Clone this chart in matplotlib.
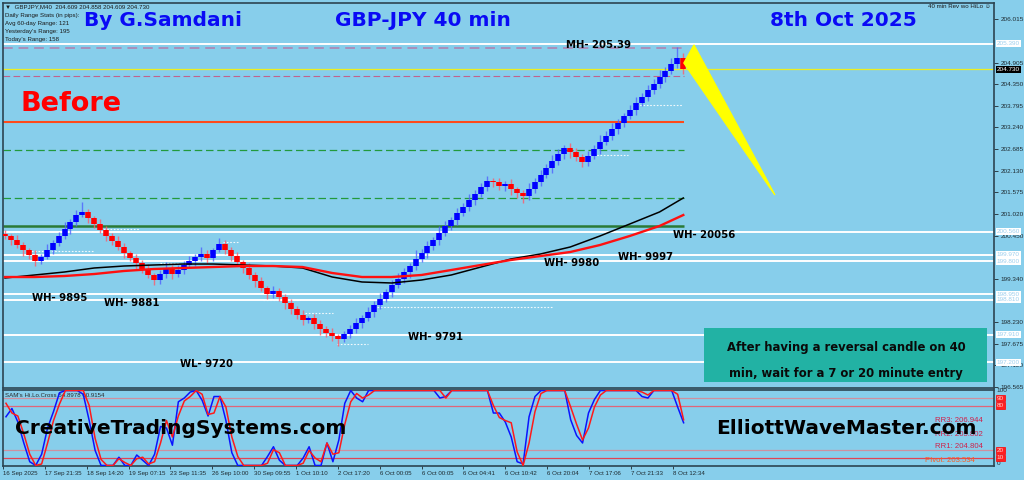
import matplotlib
matplotlib.use("Agg")
import matplotlib.pyplot as plt
from matplotlib.patches import Rectangle
from matplotlib.transforms import blended_transform_factory
import numpy as np

# ---------------- data ----------------
open0 = 200.50
closes = [200.448, 200.345, 200.216, 200.088, 199.959, 199.805, 199.907, 200.088, 200.268, 200.448,
          200.627, 200.807, 200.987, 201.065, 200.910, 200.756, 200.602, 200.448, 200.319, 200.165,
          200.010, 199.882, 199.753, 199.599, 199.445, 199.316, 199.470, 199.625, 199.470, 199.573,
          199.702, 199.805, 199.907, 199.985, 199.882, 200.088, 200.242, 200.088, 199.933, 199.779,
          199.625, 199.445, 199.290, 199.110, 198.956, 199.033, 198.879, 198.725, 198.570, 198.416,
          198.288, 198.339, 198.185, 198.056, 197.953, 197.876, 197.799, 197.928, 198.056, 198.210,
          198.339, 198.493, 198.673, 198.828, 199.008, 199.188, 199.342, 199.522, 199.676, 199.856,
          200.010, 200.190, 200.345, 200.525, 200.705, 200.859, 201.039, 201.193, 201.373, 201.528,
          201.708, 201.862, 201.836, 201.733, 201.785, 201.656, 201.553, 201.476, 201.656, 201.836,
          202.016, 202.196, 202.376, 202.556, 202.710, 202.608, 202.479, 202.350, 202.505, 202.685,
          202.865, 203.019, 203.199, 203.353, 203.533, 203.688, 203.868, 204.022, 204.202, 204.356,
          204.536, 204.690, 204.870, 205.025, 204.730]
wick_up_pips = [10, 6, 14, 8, 5, 12, 9, 15, 7, 11,
                18, 9, 13, 25, 8, 6, 12, 10, 7, 14,
                9, 5, 11, 8, 13, 6, 10, 16, 7, 12,
                9, 14, 8, 18, 10, 6, 15, 9, 7, 11,
                5, 13, 8, 10, 6, 12, 9, 7, 11, 8,
                14, 6, 10, 9, 7, 12, 5, 8, 11, 14,
                9, 13, 10, 16, 8, 12, 15, 11, 9, 22,
                10, 14, 8, 17, 12, 9, 13, 10, 15, 11,
                9, 14, 7, 10, 8, 12, 6, 9, 15, 11,
                13, 10, 16, 12, 9, 14, 11, 8, 13, 10,
                18, 12, 15, 11, 9, 14, 16, 10, 13, 12,
                19, 11, 15, 28, 13]
wick_dn_pips = [8, 12, 7, 15, 10, 14, 9, 6, 11, 8,
                7, 12, 9, 6, 13, 10, 8, 14, 11, 9,
                12, 8, 15, 10, 7, 13, 9, 11, 14, 8,
                10, 7, 12, 9, 13, 8, 6, 11, 14, 9,
                12, 10, 15, 8, 13, 11, 9, 16, 12, 10,
                14, 9, 12, 15, 10, 13, 18, 8, 11, 9,
                12, 8, 14, 10, 9, 13, 7, 11, 15, 10,
                8, 12, 10, 14, 9, 11, 13, 8, 10, 12,
                9, 11, 14, 10, 13, 16, 12, 18, 9, 11,
                10, 8, 13, 9, 12, 15, 11, 14, 10, 8,
                12, 9, 11, 14, 10, 8, 13, 9, 11, 10,
                9, 12, 8, 10, 12]

ma_bars = [0, 5, 10, 15, 20, 25, 30, 35, 40, 45, 50, 55, 60, 65, 70, 75, 80, 85, 90, 95, 100, 105, 110, 114]
ma_black = [199.368, 199.445, 199.522, 199.625, 199.676, 199.702, 199.727, 199.727, 199.702, 199.676,
            199.625, 199.393, 199.265, 199.239, 199.316, 199.445, 199.650, 199.856, 199.985, 200.165,
            200.448, 200.756, 201.065, 201.425]
ma_red = [199.393, 199.393, 199.419, 199.470, 199.548, 199.599, 199.625, 199.650, 199.676, 199.676,
          199.650, 199.496, 199.393, 199.393, 199.445, 199.573, 199.702, 199.830, 199.933, 200.036,
          200.216, 200.448, 200.705, 200.987]

osc_blue = [65, 76, 58, 30, 5, 0, 15, 50, 72, 97,
            100, 100, 100, 95, 60, 20, 0, 0, 0, 11,
            0, 0, 14, 7, 0, 15, 52, 50, 27, 85,
            90, 98, 100, 87, 66, 92, 92, 60, 17, 0,
            0, 0, 0, 0, 12, 25, 7, 0, 0, 0,
            10, 25, 0, 0, 30, 5, 34, 83, 100, 90,
            85, 100, 100, 100, 100, 100, 100, 100, 100, 100,
            100, 100, 100, 90, 92, 100, 100, 100, 100, 100,
            100, 100, 70, 70, 58, 38, 5, 2, 65, 92,
            100, 100, 100, 100, 100, 61, 40, 30, 70, 88,
            100, 100, 100, 100, 100, 100, 100, 92, 90, 100,
            100, 100, 100, 78, 57]
osc_red = [83, 70, 66, 42, 15, 0, 2, 30, 60, 82,
           100, 100, 100, 100, 80, 36, 8, 0, 0, 9,
           4, 0, 9, 11, 2, 5, 30, 60, 38, 66,
           86, 92, 100, 95, 68, 70, 92, 78, 38, 12,
           0, 0, 0, 0, 3, 21, 17, 0, 0, 0,
           3, 20, 10, 5, 30, 15, 17, 55, 85, 96,
           90, 94, 100, 100, 100, 100, 100, 100, 100, 100,
           100, 100, 100, 100, 90, 100, 100, 100, 100, 100,
           100, 100, 80, 64, 60, 57, 18, 0, 30, 72,
           96, 100, 100, 100, 100, 78, 55, 34, 50, 78,
           94, 100, 100, 100, 100, 100, 100, 98, 94, 100,
           100, 100, 100, 95, 61]
osc_levels = [90, 80, 20, 10]

white_levels = [205.390, 200.560, 199.970, 199.800, 198.950, 198.810, 197.910, 197.200]
current_price = 204.730
dashed_levels = [205.282, 204.572]
orange_level = 203.370
green_dashed_levels = [202.659, 201.425]
green_solid_level = 200.717
level_end_bar = 114.1

dotted_segments = [(0.0, 3.0, 200.550), (3.9, 14.8, 200.062), (16.0, 22.7, 200.627), (26.1, 29.4, 199.753),
                   (36.6, 39.2, 200.293), (43.4, 49.6, 198.802), (50.4, 55.1, 198.468), (55.8, 61.0, 197.670),
                   (62.5, 92.1, 198.622), (98.3, 104.7, 202.530), (105.5, 114.0, 203.816)]

forecast_bars = [114.1, 115.8, 129.4]
forecast_prices = [204.896, 205.359, 201.502]

wave_labels = [("MH- 205.39", 99.7, 205.359), ("WH- 9895", 9.2, 198.853), ("WH- 9881", 21.3, 198.725),
               ("WL- 9720", 33.8, 197.156), ("WH- 9791", 72.4, 197.850), ("WH- 9980", 95.3, 199.753),
               ("WH- 9997", 107.6, 199.907), ("WH- 20056", 117.5, 200.473)]

price_ticks = [206.015, 204.905, 204.350, 203.795, 203.240, 202.685, 202.130, 201.575,
               201.020, 200.450, 199.340, 198.230, 197.675, 197.120, 196.565]
time_labels = ["16 Sep 2025", "17 Sep 21:35", "18 Sep 14:20", "19 Sep 07:15", "23 Sep 11:35",
               "26 Sep 10:00", "30 Sep 09:55", "1 Oct 10:10", "2 Oct 17:20", "6 Oct 00:05",
               "6 Oct 00:05", "6 Oct 04:41", "6 Oct 10:42", "6 Oct 20:04", "7 Oct 17:06",
               "7 Oct 21:33", "8 Oct 12:34"]
pivot_texts = [("RR3: 206.944", '#d0204a'), ("RR2: 205.802", '#d0204a'),
               ("RR1: 204.804", '#d0204a'), ("PIvot: 203.534", '#ff5a1e')]

# ---------------- layout ----------------
W, H = 1024, 480
SKY = '#87CEEB'
BORDER = '#2c4452'
BAR_PX = 5.95
X0_PX = 5.0
SMALL = ['Liberation Sans', 'DejaVu Sans']

fig = plt.figure(figsize=(W / 100, H / 100), dpi=100, facecolor=SKY)
ax = fig.add_axes([3 / W, 1 - 388 / H, (994 - 3) / W, (388 - 3) / H], facecolor=SKY)
ax2 = fig.add_axes([3 / W, 1 - 466 / H, (994 - 3) / W, (466 - 390) / H], facecolor=SKY)

xl = ((3 - X0_PX) / BAR_PX, (994 - X0_PX) / BAR_PX)
for a in (ax, ax2):
    a.set_xlim(*xl)
    for s in a.spines.values():
        s.set_color(BORDER)
        s.set_linewidth(1.2)
ax.set_ylim(196.539, 206.439)
ax2.set_ylim(-0.7, 100.7)

# ---------------- candles ----------------
c = np.array(closes)
o = np.array([open0] + closes[:-1])
x = np.arange(len(c))
hi = np.maximum(o, c) + np.array(wick_up_pips) / 100.0
lo = np.minimum(o, c) - np.array(wick_dn_pips) / 100.0
up = c >= o
dn = ~up
ax.vlines(x[up], lo[up], hi[up], color='#4f62ff', lw=1.0, alpha=0.8, zorder=3)
ax.vlines(x[dn], lo[dn], hi[dn], color='#ff5a6a', lw=1.0, alpha=0.8, zorder=3)
ax.vlines(x[up], o[up], c[up], color='#0000ff', lw=4.0, zorder=4)
ax.vlines(x[dn], o[dn], c[dn], color='#ff0000', lw=4.0, zorder=4)

# moving averages
ax.plot(ma_bars, ma_black, color='black', lw=1.1, zorder=4)
ax.plot(ma_bars, ma_red, color='#ff1010', lw=1.7, zorder=4)

# ---------------- levels ----------------
for lv in white_levels:
    ax.axhline(lv, color='white', lw=1.4, zorder=2.5)
ax.axhline(current_price, color='#eeee20', lw=0.9, zorder=2.5)
ax.hlines(dashed_levels[0], xl[0], level_end_bar, color='#a98fba', lw=1.4, linestyles=(0, (5, 3)), zorder=2)
ax.hlines(dashed_levels[1], xl[0], level_end_bar, color='#c0648c', lw=0.8, linestyles=(0, (6, 3)), zorder=2)
ax.hlines(orange_level, xl[0], level_end_bar, color='#ff4a1a', lw=1.5, zorder=2)
for lv in green_dashed_levels:
    ax.hlines(lv, xl[0], level_end_bar, color='#229a3c', lw=0.9, linestyles=(0, (6, 3)), zorder=2)
ax.hlines(green_solid_level, xl[0], level_end_bar, color='#2a7a36', lw=1.8, zorder=2)
for x0, x1, p in dotted_segments:
    ax.hlines(p, x0, x1, color='white', lw=0.8, linestyles=(0, (1.5, 1.5)), alpha=0.9, zorder=2)

# forecast triangle
ax.fill(forecast_bars, forecast_prices, color='#ffff00', zorder=5)

# wave labels
for t, bx, py in wave_labels:
    ax.text(bx, py, t, fontsize=7.3, fontweight='bold', color='black', ha='center', va='center', zorder=2.7)

# ---------------- right price axis ----------------
ax.yaxis.tick_right()
ax.set_yticks(price_ticks)
ax.set_yticklabels([f"{v:.3f}" for v in price_ticks], family=SMALL)
ax.tick_params(axis='y', direction='out', length=3, width=0.6, colors='#1e2a30', labelsize=4.6, pad=2)
ax.set_xticks([])

tr = blended_transform_factory(ax.transAxes, ax.transData)
for lv in white_levels:
    ax.text(1.003, lv, f"{lv:.3f}", transform=tr, fontsize=4.6, family=SMALL, color='#9ccfee',
            ha='left', va='center', clip_on=False, zorder=10,
            bbox=dict(boxstyle='square,pad=0.18', fc='white', ec='none'))
ax.text(1.003, current_price, f"{current_price:.3f}", transform=tr, fontsize=4.6, family=SMALL,
        color='white', ha='left', va='center', clip_on=False, zorder=11,
        bbox=dict(boxstyle='square,pad=0.18', fc='black', ec='none'))

# teal note box
bx0 = (704 - 3) / 991
by0 = (388 - 382) / 385
ax.add_patch(Rectangle((bx0, by0), (987 - 704) / 991, (382 - 328) / 385, transform=ax.transAxes,
                       fc='#22b2a4', ec='none', zorder=6))
ax.text((846 - 3) / 991, (388 - 348) / 385, "After having a reversal candle on 40", transform=ax.transAxes,
        fontsize=8.4, fontweight='bold', color='#0a0a0a', ha='center', va='center', zorder=7)
ax.text((846 - 3) / 991, (388 - 373) / 385, "min, wait for a 7 or 20 minute entry", transform=ax.transAxes,
        fontsize=8.4, fontweight='bold', color='#0a0a0a', ha='center', va='center', zorder=7)

# ---------------- oscillator ----------------
ax2.plot(x, osc_blue, color='#0a14ff', lw=1.1, zorder=4)
ax2.plot(x, osc_red, color='#ff1a1a', lw=1.1, zorder=5)
lvl_colors = ['#cf8f9f', '#e0667a', '#cf8f9f', '#e04454']
for lv, col in zip(osc_levels, lvl_colors):
    ax2.axhline(lv, color=col, lw=0.9, zorder=2)
ax2.set_yticks([])
tick_pos = [-0.5 + 7.042 * k for k in range(len(time_labels))]
ax2.set_xticks(tick_pos)
ax2.set_xticklabels(time_labels, family=SMALL, ha='left')
ax2.tick_params(axis='x', direction='out', length=2, width=0.6, colors='#1e2a30', labelsize=4.4, pad=1.5)

tr2 = blended_transform_factory(ax2.transAxes, ax2.transData)
ax2.text(1.003, 100, "100", transform=tr2, fontsize=4.6, family=SMALL, color='#1e2a30',
         ha='left', va='center', clip_on=False)
ax2.text(1.003, 3, "0", transform=tr2, fontsize=4.6, family=SMALL, color='#1e2a30',
         ha='left', va='center', clip_on=False)
for lv in osc_levels:
    ax2.text(1.003, lv, f"{lv}", transform=tr2, fontsize=4.6, family=SMALL, color='#ffd0d0',
             ha='left', va='center', clip_on=False, zorder=10,
             bbox=dict(boxstyle='square,pad=0.15', fc='#ff2020', ec='#ff0000', lw=0.5))
ax2.text(0.002, 0.93, "SAM's Hi.Lo.Cross 54.8978 60.9154", transform=ax2.transAxes, fontsize=4.4,
         family=SMALL, color='#2a2a2a', ha='left', va='center')
for k, (t, col) in enumerate(pivot_texts):
    ax2.text((935 - 3) / 991 if k < 3 else (925 - 3) / 991, (466 - [421, 434, 447, 461][k]) / 76, t,
             transform=ax2.transAxes, fontsize=5.6, family=SMALL, color=col, ha='left', va='center', zorder=6)

# ---------------- figure texts ----------------
def ft(px, py, s, **kw):
    fig.text(px / W, 1 - py / H, s, **kw)

ft(163, 20, "By G.Samdani", fontsize=14.5, fontweight='bold', color='#0a0af5', ha='center', va='center')
ft(423, 20, "GBP-JPY 40 min", fontsize=14.5, fontweight='bold', color='#0a0af5', ha='center', va='center')
ft(843, 20, "8th Oct 2025", fontsize=14.5, fontweight='bold', color='#0a0af5', ha='center', va='center')
ft(71, 104, "Before", fontsize=19.5, fontweight='bold', color='#ff0000', ha='center', va='center')
ft(181, 429, "CreativeTradingSystems.com", fontsize=14.5, fontweight='bold', color='black',
   ha='center', va='center', zorder=20)
ft(846, 428, "ElliottWaveMaster.com", fontsize=14.5, fontweight='bold', color='black',
   ha='center', va='center', zorder=20)

ft(5, 7, "\u25bc  GBPJPY,M40  204.609 204.858 204.609 204.730", fontsize=4.4, family=SMALL,
   color='#1a1a1a', ha='left', va='center')
info = ["Daily Range Stats (in pips):", "Avg 60-day Range: 121", "Yesterday's Range: 195", "Today's Range: 158"]
for k, s in enumerate(info):
    ft(5, 15 + 8 * k, s, fontsize=4.4, family=SMALL, color='#1a1a1a', ha='left', va='center')
ft(991, 7, "40 min Rev wo HiLo \u263a", fontsize=4.4, family=SMALL, color='#1a1a1a', ha='right', va='center')

fig.savefig("out.png", dpi=100, facecolor=SKY)
